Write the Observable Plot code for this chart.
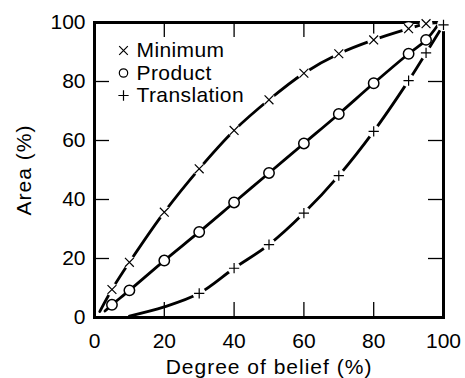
<!DOCTYPE html>
<html><head><meta charset="utf-8">
<script src="https://cdn.jsdelivr.net/npm/d3@7"></script>
<script src="https://cdn.jsdelivr.net/npm/@observablehq/plot@0.6"></script>
<style>
body{margin:0;background:#fff}
#chart svg{font-family:"Liberation Sans",Arial,Helvetica,sans-serif;display:block}
#chart g[aria-label="x-axis label"] text, #chart g[aria-label="y-axis label"] text{letter-spacing:1px}
#chart g.legend-text text{letter-spacing:0.4px}
</style>
</head><body><div id="chart"></div>
<script>
// axis ticks
const beliefTicks = [0, 20, 40, 60, 80, 100];
const areaTicks = [0, 20, 40, 60, 80, 100];
const innerTicks = [20, 40, 60, 80];

// series names (legend order)
const seriesNames = ["Minimum", "Product", "Translation"];

// Minimum (×)
const minimumX = [5, 10, 20, 30, 40, 50, 60, 70, 80, 90, 95];
const minimumY = [9.5, 18.7, 35.7, 50.4, 63.4, 73.8, 82.8, 89.4, 94.1, 97.9, 99.6];
const minimumCurveX = [1.5, 5, 10, 20, 30, 40, 50, 60, 70, 80, 90, 95, 98.5];
const minimumCurveY = [2, 9.5, 18.7, 35.7, 50.4, 63.4, 73.8, 82.8, 89.4, 94.1, 97.9, 99.6, 100];

// Product (○)
const productX = [5, 10, 20, 30, 40, 50, 60, 70, 80, 90, 95];
const productY = [4.3, 9.2, 19.3, 29, 39, 49, 59, 69, 79.4, 89.4, 94.1];
const productCurveX = [3, 5, 10, 20, 30, 40, 50, 60, 70, 80, 90, 95, 98.5];
const productCurveY = [2.2, 4.3, 9.2, 19.3, 29, 39, 49, 59, 69, 79.4, 89.4, 94.1, 99.3];

// Translation (+)
const translationX = [30, 40, 50, 60, 70, 80, 90, 95, 100];
const translationY = [8.2, 16.7, 24.7, 35.4, 48.1, 63.1, 80.3, 89.7, 99.2];
const translationCurveX = [10, 20, 30, 40, 50, 60, 70, 80, 90, 95, 100];
const translationCurveY = [0.5, 3.6, 8.2, 16.7, 24.7, 35.4, 48.1, 63.1, 80.3, 89.7, 99.2];

const pts = (xs, ys) => xs.map((x, i) => ({x, y: ys[i]}));
const minPts = pts(minimumX, minimumY);
const prodPts = pts(productX, productY);
const transPts = pts(translationX, translationY);
const minCurve = pts(minimumCurveX, minimumCurveY);
const prodCurve = pts(productCurveX, productCurveY);
const transCurve = pts(translationCurveX, translationCurveY);

const W = 465, H = 378;
const mL = 94, mR = 22, mT = 22, mB = 61;
const innerW = W - mL - mR, innerH = H - mT - mB;
const tickLen = 15;
const FS = 21;

const legendSymbols = ["times", "circle", "plus"];
const legendR = [4.0, 4.2, 3.4];
const legendMarks = seriesNames.flatMap((name, i) => [
  Plot.dot([name], {frameAnchor: "top-left", dx: 29, dy: 28 + i * 22.5,
    symbol: legendSymbols[i], r: legendR[i], stroke: "black", strokeWidth: 1.2,
    fill: i === 1 ? "white" : "none"}),
  Plot.text([name], {frameAnchor: "top-left", dx: 42, dy: 28 + i * 22.5, lineAnchor: "middle",
    text: d => d, textAnchor: "start", fontSize: FS, fill: "black", className: "legend-text"})
]);

const chart = Plot.plot({
  width: W, height: H,
  marginLeft: mL, marginRight: mR, marginTop: mT, marginBottom: mB,
  style: {fontSize: FS + "px", fontFamily: '"Liberation Sans", Arial, sans-serif', color: "black", background: "white"},
  x: {domain: [0, 100]},
  y: {domain: [0, 100]},
  marks: [
    // inward ticks
    Plot.ruleX(innerTicks, {x: d => d, insetTop: innerH - tickLen, stroke: "black", strokeWidth: 1.3}),
    Plot.ruleX(innerTicks, {x: d => d, insetBottom: innerH - tickLen, stroke: "black", strokeWidth: 1.3}),
    Plot.ruleY(innerTicks, {y: d => d, insetRight: innerW - tickLen, stroke: "black", strokeWidth: 1.3}),
    Plot.ruleY(innerTicks, {y: d => d, insetLeft: innerW - tickLen, stroke: "black", strokeWidth: 1.3}),
    Plot.frame({stroke: "black", strokeWidth: 3}),
    Plot.axisX({ticks: beliefTicks, tickSize: 0, tickPadding: 16, fontSize: FS,
      label: "Degree of belief (%)", labelAnchor: "center", labelArrow: "none", labelOffset: 56}),
    Plot.axisY({ticks: areaTicks, tickSize: 0, tickPadding: 9, fontSize: FS,
      label: "Area (%)", labelAnchor: "center", labelArrow: "none", labelOffset: 78}),
    // curves
    Plot.line(minCurve, {x: "x", y: "y", curve: "catmull-rom", stroke: "black", strokeWidth: 2.8}),
    Plot.line(prodCurve, {x: "x", y: "y", curve: "catmull-rom", stroke: "black", strokeWidth: 2.8}),
    Plot.line(transCurve, {x: "x", y: "y", curve: "catmull-rom", stroke: "black", strokeWidth: 2.8}),
    // knockouts
    Plot.dot(minPts, {x: "x", y: "y", r: 6.5, fill: "white", stroke: "none"}),
    Plot.dot(transPts, {x: "x", y: "y", r: 6.5, fill: "white", stroke: "none"}),
    // markers
    Plot.dot(minPts, {x: "x", y: "y", symbol: "times", r: 4.1, stroke: "black", strokeWidth: 1.2}),
    Plot.dot(transPts, {x: "x", y: "y", symbol: "plus", r: 3.4, stroke: "black", strokeWidth: 1.2}),
    Plot.dot(prodPts, {x: "x", y: "y", symbol: "circle", r: 5.2, fill: "white", stroke: "black", strokeWidth: 1.5}),
    ...legendMarks
  ]
});
document.getElementById("chart").append(chart);
</script>
</body></html>
